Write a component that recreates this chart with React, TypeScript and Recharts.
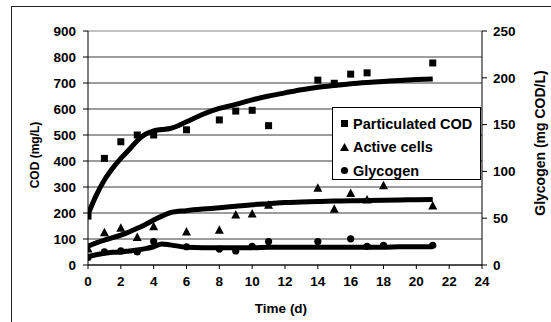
import React from 'react';
import {
  ComposedChart,
  Scatter,
  Line,
  XAxis,
  YAxis,
  CartesianGrid,
  ReferenceLine,
  Label,
} from 'recharts';

// measured points
const codTimes = [0, 1, 2, 3, 4, 6, 8, 9, 10, 11, 14, 15, 16, 17, 21];
const codValues = [188, 410, 474, 500, 500, 520, 558, 592, 595, 536, 711, 699, 734, 739, 777];

const cellTimes = [0, 1, 2, 3, 4, 6, 8, 9, 10, 11, 14, 15, 16, 17, 18, 21];
const cellValues = [62, 124, 141, 106, 147, 127, 134, 192, 196, 230, 295, 214, 275, 250, 305, 227];

const glyTimes = [0, 1, 2, 3, 4, 6, 8, 9, 10, 11, 14, 16, 17, 18, 21];
const glyValues = [8, 14, 15, 14, 25, 19.5, 17, 15, 20, 25, 25, 28, 20, 21, 21];

// model curves
const modelTimes = [0, 0.5, 1, 1.5, 2, 2.5, 3, 3.5, 4, 4.5, 5, 6, 7, 8, 9, 10, 11, 12, 13, 14, 15, 16, 17, 18, 19, 20, 21];
const codModel = [195, 268, 327, 372, 410, 443, 478, 503, 516, 521, 525, 551, 580, 602, 618, 635, 650, 662, 674, 684, 690, 697, 702, 706, 710, 713, 715];
const cellModel = [72, 85, 96, 105, 115, 127, 141, 156, 173, 188, 201, 209, 215, 220, 226, 232, 236, 240, 242, 244, 246, 247, 248, 249, 250, 251, 252];
const glyModel = [9, 11, 12.5, 13.5, 14, 15, 16, 17.5, 19.5, 22.5, 21.5, 19, 18.5, 18.5, 18.5, 18.5, 19, 19, 19, 19, 19, 19, 19, 19, 19.5, 19.5, 19.5];

const xTicks = [0, 2, 4, 6, 8, 10, 12, 14, 16, 18, 20, 22, 24];
const leftTicks = [0, 100, 200, 300, 400, 500, 600, 700, 800, 900];
const rightTicks = [0, 50, 100, 150, 200, 250];

const seriesNames = ['Particulated COD', 'Active cells', 'Glycogen'];

const pts = (ts: number[], vs: number[]) => ts.map((t, i) => ({ t, v: vs[i] }));
const codPts = pts(codTimes, codValues);
const cellPts = pts(cellTimes, cellValues);
const glyPts = pts(glyTimes, glyValues);
const codLine = pts(modelTimes, codModel);
const cellLine = pts(modelTimes, cellModel);
const glyLine = pts(modelTimes, glyModel);

const FONT = '"Liberation Sans", Arial, sans-serif';
const tickStyle = { fontSize: 13.5, fontWeight: 700, fill: '#000', fontFamily: FONT };

const Square = (p: any) => <rect x={p.cx - 3.5} y={p.cy - 3.5} width={7} height={7} fill="#000" />;
const Triangle = (p: any) => (
  <polygon points={`${p.cx},${p.cy - 5} ${p.cx - 4.5},${p.cy + 3.5} ${p.cx + 4.5},${p.cy + 3.5}`} fill="#000" />
);
const Dot = (p: any) => <circle cx={p.cx} cy={p.cy} r={3.6} fill="#000" />;

const marker = (i: number) => {
  if (i === 0) return <rect x={1} y={1} width={7} height={7} fill="#000" />;
  if (i === 1) return <polygon points="4.5,0 0,8 9,8" fill="#000" />;
  return <circle cx={4.5} cy={4.5} r={3.6} fill="#000" />;
};

const LegendBox = () => (
  <div
    style={{
      position: 'absolute',
      left: 332,
      top: 107,
      width: 149,
      height: 73,
      boxSizing: 'border-box',
      border: '1px solid #000',
      background: '#fff',
      fontFamily: FONT,
      fontWeight: 700,
      fontSize: 14.5,
      color: '#000',
      paddingTop: 4,
    }}
  >
    {seriesNames.map((n, i) => (
      <div key={n} style={{ height: 23.5, display: 'flex', alignItems: 'center', paddingLeft: 7 }}>
        <svg width={10} height={9} style={{ marginRight: 3 }}>
          {marker(i)}
        </svg>
        {n}
      </div>
    ))}
  </div>
);

const App = () => (
  <div style={{ position: 'absolute', left: 0, top: 0, width: 551, height: 322, overflow: 'hidden', background: '#fff' }}>
    <div
      style={{
        position: 'absolute',
        left: 11,
        top: 6,
        width: 700,
        height: 500,
        border: '1.5px solid #222',
      }}
    />
    <div style={{ position: 'absolute', left: 0, top: 0 }}>
      <ComposedChart width={551} height={322} margin={{ top: 31, right: 14, bottom: 0, left: 12 }}>
        <CartesianGrid vertical={false} stroke="#3a3a3a" yAxisId="left" />
        <ReferenceLine yAxisId="left" y={900} stroke="#e6e6e6" />
        <XAxis
          dataKey="t"
          type="number"
          domain={[0, 24]}
          ticks={xTicks}
          interval={0}
          height={57}
          stroke="#000"
          tickSize={4}
          tickMargin={7}
          tick={tickStyle}
          allowDataOverflow
        >
          <Label
            content={() => (
              <text x={281} y={308} textAnchor="middle" dominantBaseline="central" style={{ ...tickStyle, fontSize: 13.5 }}>
                Time (d)
              </text>
            )}
          />
        </XAxis>
        <YAxis
          yAxisId="left"
          dataKey="v"
          domain={[0, 900]}
          ticks={leftTicks}
          interval={0}
          width={76}
          stroke="#000"
          tickSize={5}
          tickMargin={7}
          tick={tickStyle}
        >
          <Label
            content={() => (
              <text
                x={35}
                y={155}
                textAnchor="middle"
                dominantBaseline="central"
                transform="rotate(-90 35 155)"
                style={{ ...tickStyle, fontSize: 12 }}
              >
                COD (mg/L)
              </text>
            )}
          />
        </YAxis>
        <YAxis
          yAxisId="right"
          orientation="right"
          dataKey="v"
          domain={[0, 250]}
          ticks={rightTicks}
          interval={0}
          width={55}
          stroke="#000"
          tickSize={5}
          tickMargin={6}
          tick={tickStyle}
        >
          <Label
            content={() => (
              <text
                x={540}
                y={143}
                textAnchor="middle"
                dominantBaseline="central"
                transform="rotate(-90 540 143)"
                style={{ ...tickStyle, fontSize: 14 }}
              >
                Glycogen (mg COD/L)
              </text>
            )}
          />
        </YAxis>
        <Scatter yAxisId="left" name={seriesNames[0]} data={codPts} shape={Square} isAnimationActive={false} />
        <Scatter yAxisId="left" name={seriesNames[1]} data={cellPts} shape={Triangle} isAnimationActive={false} />
        <Scatter yAxisId="right" name={seriesNames[2]} data={glyPts} shape={Dot} isAnimationActive={false} />
        <Line yAxisId="left" data={codLine} dataKey="v" type="monotone" stroke="#000" strokeWidth={5} dot={false} isAnimationActive={false} />
        <Line yAxisId="left" data={cellLine} dataKey="v" type="monotone" stroke="#000" strokeWidth={5} dot={false} isAnimationActive={false} />
        <Line yAxisId="right" data={glyLine} dataKey="v" type="monotone" stroke="#000" strokeWidth={5} dot={false} isAnimationActive={false} />
      </ComposedChart>
    </div>
    <LegendBox />
  </div>
);

export default App;
